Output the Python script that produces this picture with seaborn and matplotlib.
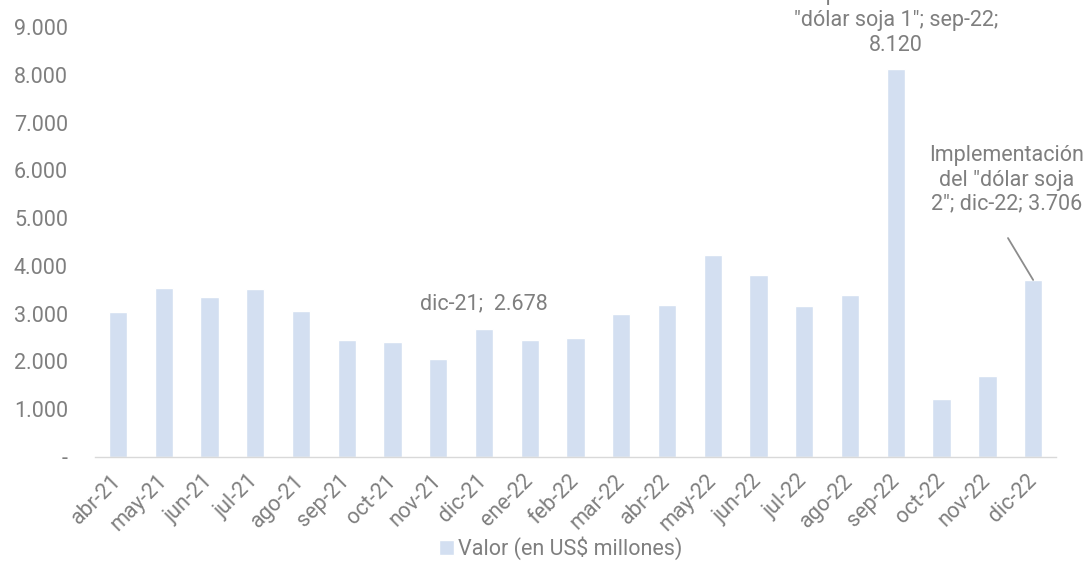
import matplotlib
matplotlib.use("Agg")
import matplotlib.pyplot as plt
import matplotlib.ticker as mticker
import seaborn as sns
import pandas as pd

# Data
meses = ["abr-21", "may-21", "jun-21", "jul-21", "ago-21", "sep-21", "oct-21",
         "nov-21", "dic-21", "ene-22", "feb-22", "mar-22", "abr-22", "may-22",
         "jun-22", "jul-22", "ago-22", "sep-22", "oct-22", "nov-22", "dic-22"]
valores = [3035, 3537, 3349, 3516, 3049, 2449, 2413,
           2045, 2678, 2449, 2490, 2987, 3175, 4228,
           3815, 3160, 3391, 8120, 1214, 1695, 3706]
serie = "Valor (en US$ millones)"

df = pd.DataFrame({"mes": meses, "valor": valores})

sns.set_style("white")
plt.rcParams["font.family"] = ["Roboto", "DejaVu Sans"]
gris = "#7f7f7f"
azul = "#d3dff1"
fs = 15.5

fig = plt.figure(figsize=(10.85, 5.7), dpi=100)
ax = fig.add_axes([0.0876, 0.1982, 0.8857, 0.7544])

sns.barplot(data=df, x="mes", y="valor", color=azul, width=0.4,
            saturation=1, label=serie, ax=ax)

ax.set_ylim(0, 9000)
ax.set_xlim(-0.5, len(meses) - 0.5)
ax.set_xlabel("")
ax.set_ylabel("")

# y axis: thousands with dot, zero as dash
def fmt(v, pos):
    if v == 0:
        return "-"
    return f"{v:,.0f}".replace(",", ".")

ax.yaxis.set_major_locator(mticker.MultipleLocator(1000))
ax.yaxis.set_major_formatter(mticker.FuncFormatter(fmt))
ax.tick_params(axis="y", length=0, pad=19.5, labelsize=fs, labelcolor=gris)

# x axis: labels at centers, tick marks at boundaries
ax.set_xticks(range(len(meses)))
ax.set_xticklabels(meses, rotation=45, ha="right", va="center",
                   rotation_mode="anchor")
ax.set_xticks([i - 0.5 for i in range(len(meses) + 1)], minor=True)
ax.tick_params(axis="x", which="major", length=0, pad=15, labelsize=fs,
               labelcolor=gris)
ax.tick_params(axis="x", which="minor", length=5.5, width=1, color="#d9d9d9")

for s in ["top", "right", "left"]:
    ax.spines[s].set_visible(False)
ax.spines["bottom"].set_color("#d9d9d9")
ax.spines["bottom"].set_linewidth(1)

# Annotations
ax.text(8, 3200, "dic-21;  2.678", ha="center", va="center",
        fontsize=fs, color=gris)
ax.text(17, 9146, "Implementación del\n\"dólar soja 1\"; sep-22;\n8.120",
        ha="center", va="center", fontsize=fs, color=gris,
        linespacing=1.28, clip_on=False)
ax.text(19.41, 5797, "Implementación\ndel \"dólar soja\n2\"; dic-22; 3.706",
        ha="center", va="center", fontsize=fs, color=gris, linespacing=1.2)
ax.annotate("", xy=(20, 3706), xytext=(19.45, 4583),
            arrowprops=dict(arrowstyle="-", color="#8c8c8c", lw=1.3,
                            shrinkA=0, shrinkB=0))

# Legend
ax.legend().remove()
h, l = ax.get_legend_handles_labels()
fig.legend(h, l, loc="center", bbox_to_anchor=(0.517, 0.038), frameon=False,
           fontsize=fs, labelcolor=gris, handlelength=0.7, handleheight=0.7,
           handletextpad=0.2)

fig.savefig("out.png", dpi=100)
